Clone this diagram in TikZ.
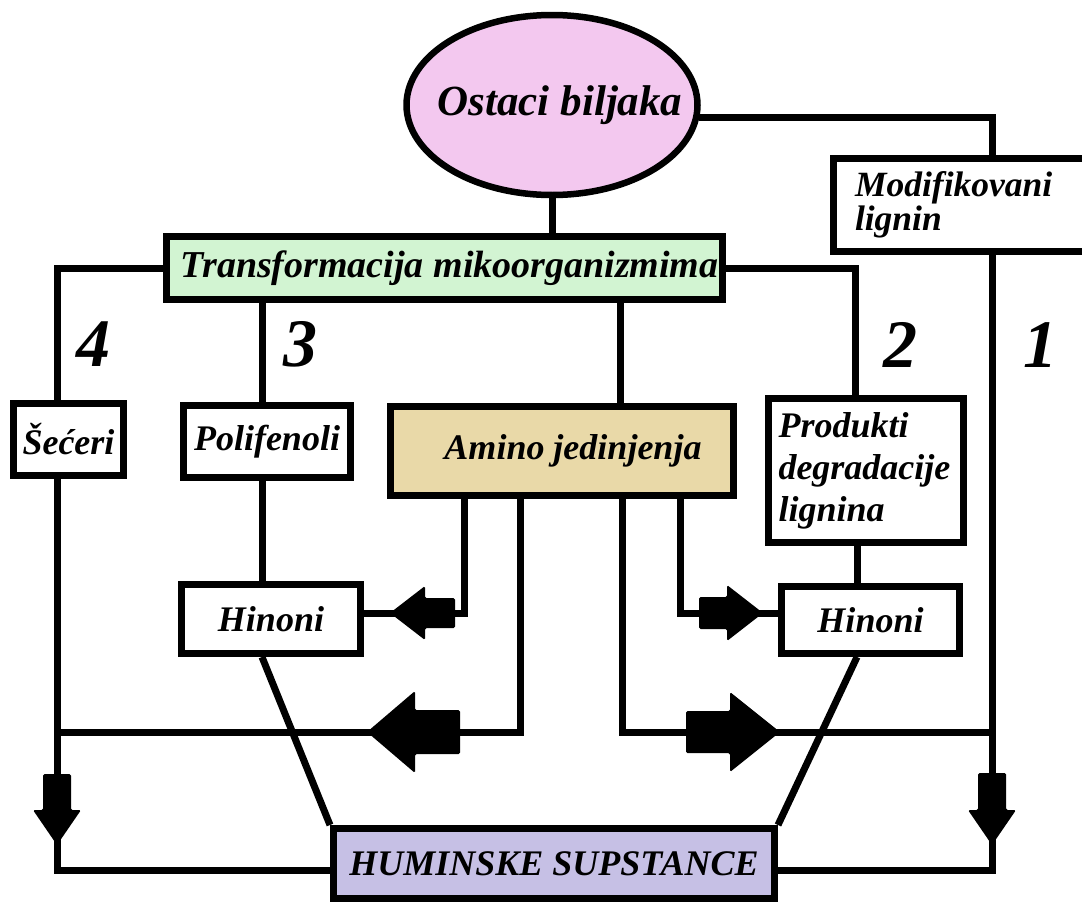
\documentclass[tikz,border=0pt]{standalone}
\usepackage{fontspec}
\setmainfont{Liberation Serif}
\usetikzlibrary{shapes.geometric,calc}
\definecolor{pinkfill}{HTML}{F3C8EF}
\definecolor{greenfill}{HTML}{D2F4D2}
\definecolor{tanfill}{HTML}{E9D9A8}
\definecolor{lavfill}{HTML}{C6C0E5}
\newcommand\blockarr[6]{%
  \fill[shift={(#1)}, rotate=#2, rounded corners=1.5pt]
    (0,0) -- (-#3,#4) -- (-#3,#6) -- (-#3-#5,#6) -- (-#3-#5,-#6) -- (-#3,-#6) -- (-#3,-#4) -- cycle;}
\begin{document}
\begin{tikzpicture}[x=1pt,y=-1pt,line width=7pt,
  txt/.style={font=\fontsize{36}{42}\selectfont\bfseries\itshape},
  box/.style={draw, rectangle, inner sep=0pt, line width=7pt, txt},
  conn/.style={line width=7pt},
  num/.style={font=\fontsize{68}{70}\selectfont\bfseries\itshape, inner sep=0pt}]
\useasboundingbox (0,0) rectangle (1082,902);
\fill[white] (0,0) rectangle (1082,902);

% nodes
\node[ellipse, draw, fill=pinkfill, line width=6.5pt, minimum width=291pt, minimum height=180pt, inner sep=0pt,
      font=\fontsize{43}{46}\selectfont\bfseries\itshape] (ell) at (552,105) {\makebox[0pt][c]{\hspace*{16pt}Ostaci biljaka}};
\node[box, fill=white, minimum width=277pt, minimum height=93pt, text width=233pt, align=left,
      inner xsep=22pt, font=\fontsize{35.5}{34}\selectfont\bfseries\itshape] (modif) at (971.5,204.5) {Modifikovani\\lignin};
\node[box, fill=greenfill, minimum width=556pt, minimum height=63pt, font=\fontsize{38}{40}\selectfont\bfseries\itshape] (trans) at (444.5,268) {\hspace*{10pt}Transformacija mikoorganizmima};
\node[box, fill=white, minimum width=110pt, minimum height=72pt] (sec) at (68.5,439.5) {Šećeri};
\node[box, fill=white, minimum width=167pt, minimum height=72pt] (poli) at (267,441.5) {Polifenoli};
\node[box, fill=tanfill, minimum width=343pt, minimum height=89pt] (amino) at (562,451) {\hspace*{22pt}Amino jedinjenja};
\node[box, fill=white, minimum width=193pt, minimum height=144pt, text width=175pt, align=left, inner xsep=10pt] (prod) at (866,470.5) {Produkti\\degradacije\\lignina};
\node[box, fill=white, minimum width=179pt, minimum height=69pt] (hinL) at (271,619) {Hinoni};
\node[box, fill=white, minimum width=178pt, minimum height=67pt] (hinR) at (870.5,620) {Hinoni};
\node[box, fill=lavfill, minimum width=441pt, minimum height=70pt, font=\fontsize{36}{40}\selectfont\bfseries\itshape] (hum) at (554,863.5) {HUMINSKE SUPSTANCE};

\node[num] (n4) at (93,344) {4};
\node[num] (n3) at (300,344) {3};
\node[num] (n2) at (900,345) {2};
\node[num] (n1) at (1040,345) {1};

% helper coordinates
\coordinate (c4) at (57,0);
\coordinate (c3) at (262,0);
\coordinate (cA) at (620,0);
\coordinate (c2) at (855,0);
\coordinate (c2b) at (857,0);
\coordinate (c1) at (992,0);
\coordinate (a1) at (464,0);
\coordinate (a2) at (520,0);
\coordinate (a3) at (622,0);
\coordinate (a4) at (680,0);
\coordinate (ys) at (0,613);
\coordinate (yh) at (0,732);
\coordinate (yb) at (0,870);
\coordinate (mtop) at (992,158);

% connectors
\draw[conn] (ell.-5) -| (mtop);
\draw[conn] (ell.south) -- (ell.south |- trans.north);
\draw[conn] (trans.west) -| (sec.north -| c4);
\draw[conn] (trans.south -| c3) -- (poli.north -| c3);
\draw[conn] (trans.south -| cA) -- (amino.north -| cA);
\draw[conn] (trans.east) -| (prod.north -| c2);
\draw[conn] (modif.south -| c1) |- (hum.east |- yb);
\draw[conn] (sec.south -| c4) |- (hum.west |- yb);
\draw[conn] (poli.south -| c3) -- (hinL.north -| c3);
\draw[conn] (prod.south -| c2b) -- (hinR.north -| c2b);
\draw[conn] (hinL.south -| c3) -- (hum.north west);
\draw[conn] (hinR.south -| c2b) -- (hum.north east);
\draw[conn] (amino.south -| a1) |- (hinL.east |- ys);
\draw[conn] (amino.south -| a4) |- (hinR.west |- ys);
\draw[conn] (amino.south -| a2) |- (c4 |- yh);
\draw[conn] (amino.south -| a3) |- (c1 |- yh);

% block arrows
\coordinate (tS1) at (390,613);
\coordinate (tS2) at (763,613);
\coordinate (tB1) at (367,732);
\coordinate (tB2) at (780,732);
\coordinate (tD1) at (57,845);
\coordinate (tD2) at (992,845);
\blockarr{tS1}{180}{35}{27}{30}{15}
\blockarr{tS2}{0}{36}{28}{28}{16}
\blockarr{tB1}{180}{48}{41}{45}{22}
\blockarr{tB2}{0}{50}{40}{44}{21}
\blockarr{tD1}{-90}{35}{24}{36}{14}
\blockarr{tD2}{-90}{35}{24}{37}{14}
\end{tikzpicture}
\end{document}
